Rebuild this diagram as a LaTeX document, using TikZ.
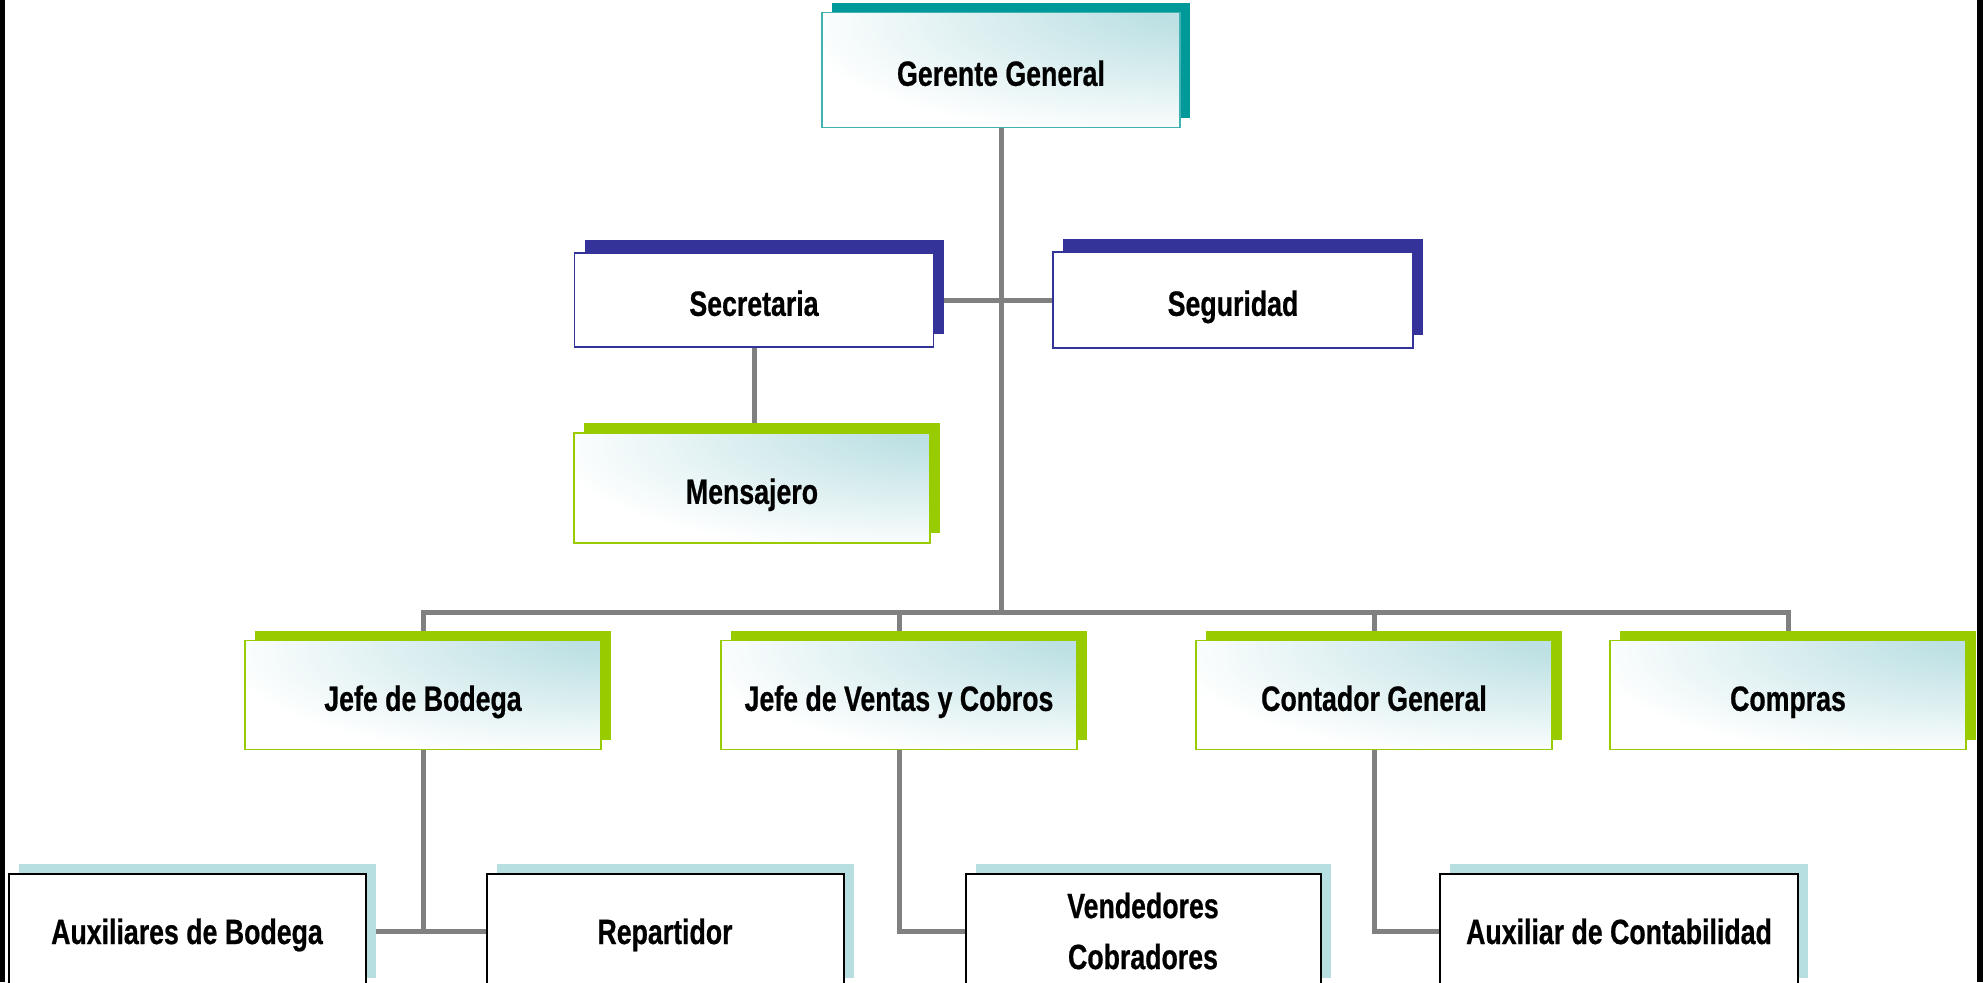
\documentclass[tikz,border=0pt]{standalone}
\usepackage{fontspec}
\setmainfont{Liberation Sans}[FakeStretch=0.76, BoldFeatures={FakeBold=0.6}]
\usetikzlibrary{positioning, shadows, backgrounds}

\definecolor{tealdark}{HTML}{009999}
\definecolor{navy}{HTML}{333399}
\definecolor{leafgreen}{HTML}{99CC00}
\definecolor{paleblue}{HTML}{B7DFE2}
\definecolor{glow}{HTML}{BCE0E3}
\definecolor{linegray}{HTML}{808080}

\pgfdeclareradialshading{boxglow}{\pgfpoint{33bp}{32bp}}{%
  color(0bp)=(glow); color(10bp)=(glow); color(48bp)=(white); color(120bp)=(white)}

\begin{document}
\begin{tikzpicture}[
  x=0.1mm, y=-0.1mm,
  base/.style = {
    line width=0.15mm, minimum width=35.6mm, minimum height=10.9mm,
    inner sep=0pt, align=center, text height=0.9em, text depth=0pt,
    font=\bfseries\fontsize{10}{14.5}\selectfont
  },
  box/.style     = {base, draw=#1, shade, shading=boxglow,
                    general shadow={fill=#1, shadow xshift=1mm, shadow yshift=1mm}},
  navybox/.style = {base, draw=navy, fill=white,
                    general shadow={fill=navy, shadow xshift=1mm, shadow yshift=1.3mm}},
  lowbox/.style  = {base, draw=black, line width=0.2mm, fill=white,
                    minimum width=35.7mm, minimum height=11.4mm, text height=0.74em,
                    general shadow={fill=paleblue, shadow xshift=1mm, shadow yshift=1mm}},
  link/.style    = {draw=linegray, line width=0.5mm}
]

\useasboundingbox (0,0) rectangle (1984,982);
\clip (0,0) rectangle (1984,982);

\node[box=tealdark, draw=tealdark!75, minimum width=35.8mm, minimum height=11.5mm]
  (GG) at (1001,70) {Gerente General};

\node[navybox, minimum width=35.9mm, minimum height=9.4mm] (SEC) at (754,300) {Secretaria};
\node[navybox, minimum width=36mm, minimum height=9.6mm]   (SEG) at (1233,300) {Seguridad};
\node[box=leafgreen, minimum height=11mm] (MEN) at (752,488) {Mensajero};

\node[box=leafgreen] (JB)  at (423,695)  {Jefe de Bodega};
\node[box=leafgreen] (JV)  at (899,695)  {Jefe de Ventas y Cobros};
\node[box=leafgreen] (CG)  at (1374,695) {Contador General};
\node[box=leafgreen] (COM) at (1788,695) {Compras};

\node[lowbox] (AB)  at (187,931)  {Auxiliares de Bodega};
\node[lowbox] (REP) at (665,931)  {Repartidor};
\node[lowbox, minimum width=35.5mm, text height=, text depth=]
  (VC)  at (1143,931) {Vendedores\\Cobradores};
\node[lowbox, minimum width=35.8mm] (AC)  at (1619,931) {Auxiliar de Contabilidad};

\begin{scope}[on background layer]
  % frame bars
  \fill (0,0) rectangle (5,982);
  \fill (1977,0) rectangle (1983,982);

  \coordinate (bus) at (1000,612);
  \draw[link] (GG.south) -- (GG.south |- bus);
  \draw[link] (JB.north) |- (bus) -| (COM.north);
  \foreach \n in {JV,CG}
    \draw[link] (\n.north |- bus) -- (\n.north);

  \draw[link] (SEC.east) -- (SEG.west);
  \draw[link] (SEC.south) -- (SEC.south |- MEN.north);

  \draw[link] (AB.east) -- (REP.west);
  \draw[link] (JB.south) -- (JB.south |- REP.west);
  \draw[link] (JV.south) |- (VC.west);
  \draw[link] (CG.south) |- (AC.west);
\end{scope}

\end{tikzpicture}
\end{document}
